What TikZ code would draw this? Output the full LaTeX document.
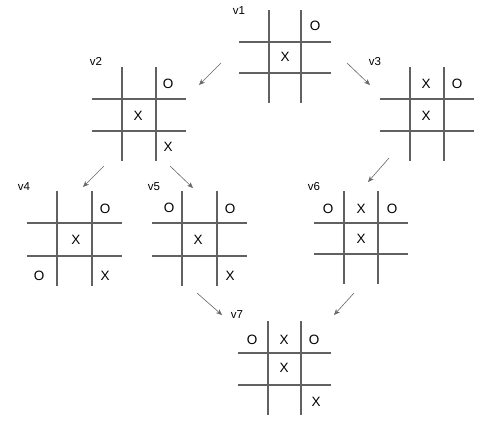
\documentclass[tikz,border=0pt]{standalone}
\usepackage{fontspec}
\setmainfont{Liberation Sans}
\usetikzlibrary{arrows.meta}
\tikzset{
  gridline/.style={draw=black!62, line width=1.1pt},
  mk/.style={font=\fontsize{13.5}{13.5}\selectfont, inner sep=0pt},
  lbl/.style={font=\fontsize{11.5}{11.5}\selectfont, inner sep=0pt},
  conn/.style={draw=black!60, line width=0.6pt, -{Stealth[length=6pt,width=5pt]}},
}
% name, a, b, dx, dy
\newcommand\tttgrid[5]{%
  \coordinate (#1) at (#2,#3);
  \draw[gridline] (#2,#3-32) -- (#2,#3+#5+30);
  \draw[gridline] (#2+#4,#3-32) -- (#2+#4,#3+#5+30);
  \draw[gridline] (#2-30,#3) -- (#2+#4+30,#3);
  \draw[gridline] (#2-30,#3+#5) -- (#2+#4+30,#3+#5);
}
\begin{document}
\begin{tikzpicture}[x=1pt,y=-1pt]
\useasboundingbox (0,0) rectangle (494,432);

% v1
\tttgrid{g1}{269}{42}{32}{31}
\node[lbl] (l1) at (239,11) {v1};
\node[mk] (m11) at (315,26) {O};
\node[mk] (m12) at (285,57) {X};

% v2
\tttgrid{g2}{122}{99}{34}{32}
\node[lbl] (l2) at (96,61) {v2};
\node[mk] (m21) at (168,84) {O};
\node[mk] (m22) at (138,116) {X};
\node[mk] (m23) at (168,147) {X};

% v3
\tttgrid{g3}{410}{99}{34}{32}
\node[lbl] (l3) at (375,62) {v3};
\node[mk] (m31) at (426,84) {X};
\node[mk] (m32) at (457,84) {O};
\node[mk] (m33) at (426,116) {X};

% v4
\tttgrid{g4}{57}{223}{35}{33}
\node[lbl] (l4) at (24,187) {v4};
\node[mk] (m41) at (105,209) {O};
\node[mk] (m42) at (76,240) {X};
\node[mk] (m43) at (39,276) {O};
\node[mk] (m44) at (105,276) {X};

% v5
\tttgrid{g5}{182}{223}{35}{33}
\node[lbl] (l5) at (154,187) {v5};
\node[mk] (m51) at (169,208) {O};
\node[mk] (m52) at (230,209) {O};
\node[mk] (m53) at (198,240) {X};
\node[mk] (m54) at (230,276) {X};

% v6
\tttgrid{g6}{344}{223}{34}{31}
\node[lbl] (l6) at (314,187) {v6};
\node[mk] (m61) at (328,209) {O};
\node[mk] (m62) at (361,209) {X};
\node[mk] (m63) at (392,209) {O};
\node[mk] (m64) at (361,239) {X};

% v7
\tttgrid{g7}{268}{353}{33}{32}
\node[lbl] (l7) at (237,315) {v7};
\node[mk] (m71) at (252,340) {O};
\node[mk] (m72) at (284,340) {X};
\node[mk] (m73) at (314,340) {O};
\node[mk] (m74) at (284,368) {X};
\node[mk] (m75) at (316,402) {X};

% connector end points
\coordinate (a12) at (221,63);  \coordinate (b12) at (199,85);
\coordinate (a13) at (347,63);  \coordinate (b13) at (370,85);
\coordinate (a24) at (104,166); \coordinate (b24) at (83,187);
\coordinate (a25) at (170,166); \coordinate (b25) at (193,188);
\coordinate (a36) at (389,158); \coordinate (b36) at (368,182);
\coordinate (a57) at (197,293); \coordinate (b57) at (222,315);
\coordinate (a67) at (354,293); \coordinate (b67) at (334,315);

\draw[conn] (a12) -- (b12);
\draw[conn] (a13) -- (b13);
\draw[conn] (a24) -- (b24);
\draw[conn] (a25) -- (b25);
\draw[conn] (a36) -- (b36);
\draw[conn] (a57) -- (b57);
\draw[conn] (a67) -- (b67);
\end{tikzpicture}
\end{document}
